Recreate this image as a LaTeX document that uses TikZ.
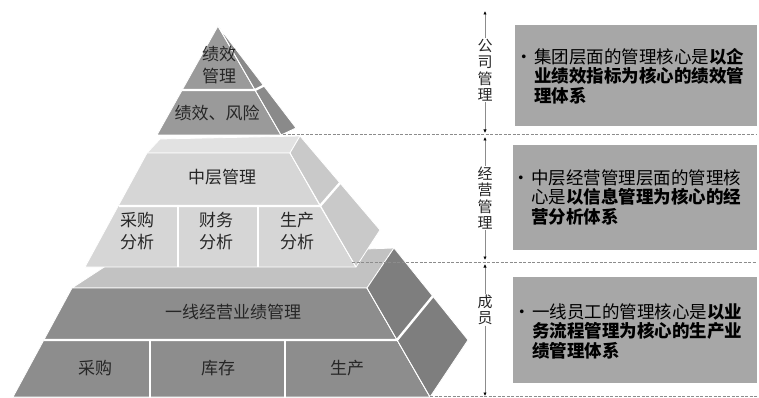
\documentclass[tikz,border=0pt]{standalone}
\usepackage{fontspec}
\setmainfont{Noto Sans CJK SC}
\usetikzlibrary{arrows.meta}
\definecolor{topF}{HTML}{9A9A9A}
\definecolor{topS}{HTML}{8A8A8A}
\definecolor{midT}{HTML}{E2E2E2}
\definecolor{midF}{HTML}{D6D6D6}
\definecolor{midS}{HTML}{C9C9C9}
\definecolor{botT}{HTML}{C2C2C2}
\definecolor{botF}{HTML}{8D8D8D}
\definecolor{botS}{HTML}{7E7E7E}
\definecolor{boxgray}{HTML}{A7A7A7}
\definecolor{labelgray}{HTML}{262626}
\definecolor{axisgray}{HTML}{8C8C8C}
\definecolor{dashgray}{HTML}{8C8C8C}
\begin{document}
\begin{tikzpicture}[x=1pt,y=-1pt,
  face/.style={draw=white,line width=0.8pt,line join=round},
  divider/.style={draw=white,line width=2.4pt},
  lbl/.style={font=\fontsize{17}{22}\selectfont,text=labelgray,align=center,inner sep=0pt},
  infobox/.style={fill=boxgray,draw=none},
  info/.style={font=\fontsize{17.5}{19.5}\selectfont,text=black,align=left,anchor=west,inner sep=0pt},
  vlabel/.style={fill=white,inner sep=1pt,font=\fontsize{15}{16.5}\selectfont,text=labelgray,align=center},
  axis/.style={draw=axisgray,line width=1pt,{Latex[length=3.5pt,width=3.5pt,color=black]}-{Latex[length=3.5pt,width=3.5pt,color=black]}},
  dashline/.style={draw=dashgray,dash pattern=on 3pt off 1.5pt,line width=1pt}]
\useasboundingbox (0,0) rectangle (759,398);

% ---------- bottom level ----------
\fill[botT,face] (72,288) -- (118,258) -- (394,248) -- (367,288) -- cycle;
\fill[botF,face] (72,288) -- (367,288) -- (430,397) -- (13,397) -- cycle;
\fill[botS,face] (367,288) -- (394,248) -- (468,340) -- (430,397) -- cycle;
\draw[divider] (44,340) -- (397,340) -- (433,296);
\draw[divider] (150,340) -- (150,398);
\draw[divider] (285,340) -- (285,398);
\draw[white,line width=0.7pt] (367,288) -- (397,340) -- (430,397);

% ---------- middle level ----------
\fill[midT,face] (147,153) -- (160,139) -- (300,136) -- (290,153) -- cycle;
\fill[midF,face] (147,153) -- (290,153) -- (356,267) -- (85,267) -- cycle;
\fill[midS,face] (290,153) -- (300,136) -- (380,230) -- (356,267) -- cycle;
\draw[divider] (119,206) -- (320,206) -- (340,183);
\draw[divider] (178,206) -- (178,267);
\draw[divider] (258,206) -- (258,267);
\draw[white,line width=0.7pt] (290,153) -- (320,206) -- (356,267);

% ---------- top pyramid ----------
\fill[topF,face] (218,26) -- (157,135) -- (281,135) -- cycle;
\fill[topS,face] (218,26) -- (281,135) -- (296,128) -- cycle;
\draw[divider] (182,90) -- (255,90) -- (265,85);
\draw[white,line width=0.7pt] (218,26) -- (281,135);

% ---------- pyramid labels ----------
\node[lbl] (t1) at (219,65) {绩效\\管理};
\node[lbl] (t2) at (217,113) {绩效、风险};
\node[lbl] (m1) at (222,177) {中层管理};
\node[lbl] (m2) at (137,231) {采购\\分析};
\node[lbl] (m3) at (216,231) {财务\\分析};
\node[lbl] (m4) at (297,231) {生产\\分析};
\node[lbl] (b1) at (233,312) {一线经营业绩管理};
\node[lbl] (b2) at (95,368) {采购};
\node[lbl] (b3) at (218,368) {库存};
\node[lbl] (b4) at (347,368) {生产};

% ---------- dashed separators ----------
\coordinate (d1a) at (283,135); \coordinate (d1b) at (757,135);
\coordinate (d2a) at (352,262); \coordinate (d2b) at (757,262);
\coordinate (d3a) at (430,396); \coordinate (d3b) at (757,396);
\draw[dashline] (d1a) -- (d1b);
\draw[dashline] (d2a) -- (d2b);
\draw[dashline] (d3a) -- (d3b);

% ---------- vertical axis ----------
\coordinate (a1) at (485,11);  \coordinate (a2) at (485,133);
\coordinate (a3) at (485,137); \coordinate (a4) at (485,260);
\coordinate (a5) at (485,264); \coordinate (a6) at (485,396);
\draw[axis] (a1) -- (a2);
\draw[axis] (a3) -- (a4);
\draw[axis] (a5) -- (a6);
\node[vlabel] (v1) at (485,70) {公\\司\\管\\理};
\node[vlabel] (v2) at (485,198) {经\\营\\管\\理};
\node[vlabel] (v3) at (485,310) {成\\员};

% ---------- info boxes ----------
\fill[infobox] (515,25) rectangle (757,126);
\fill[infobox] (513,145) rectangle (757,250);
\fill[infobox] (513,277) rectangle (757,383);
\node[info] (i1) at (534,76) {\llap{•\hspace{1pt}}集团层面的管理核心是\textbf{以企}\\\textbf{业绩效指标为核心的绩效管}\\\textbf{理体系}};
\node[info] (i2) at (531,197) {\llap{•\hspace{1pt}}中层经营管理层面的管理核\\心是\textbf{以信息管理为核心的经}\\\textbf{营分析体系}};
\node[info] (i3) at (532,331) {\llap{•\hspace{1pt}}一线员工的管理核心是\textbf{以业}\\\textbf{务流程管理为核心的生产业}\\\textbf{绩管理体系}};
\end{tikzpicture}
\end{document}
